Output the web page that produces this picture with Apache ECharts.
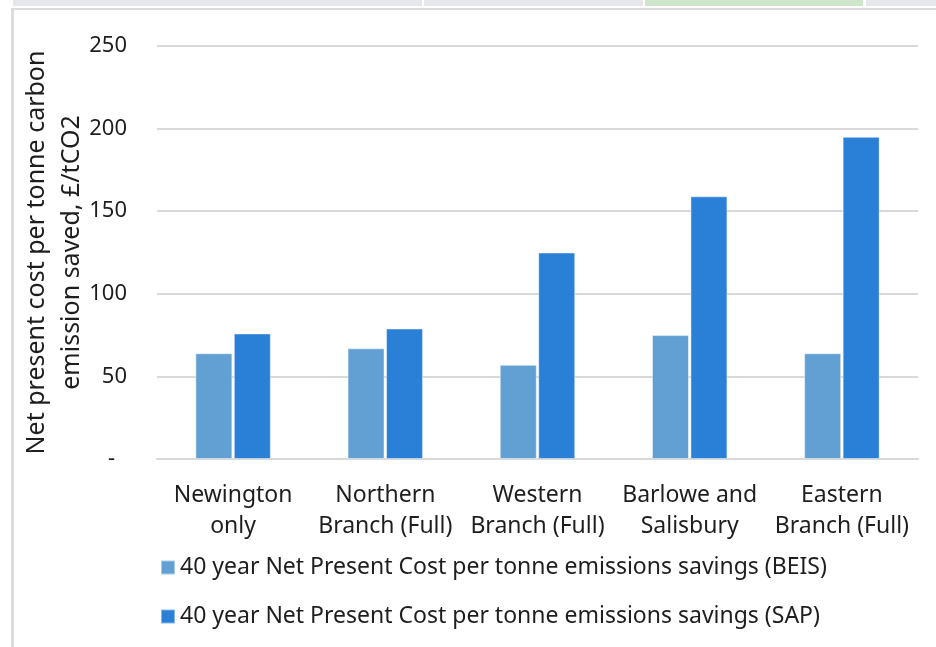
<!DOCTYPE html>
<html>
<head>
<meta charset="utf-8">
<script src="https://cdn.jsdelivr.net/npm/echarts@6/dist/echarts.min.js"></script>
<style>
html,body{margin:0;padding:0;background:#fff;}
#chart{width:936px;height:647px;}
</style>
</head>
<body>
<div id="chart"></div>
<script>
var categories = ['Newington\nonly', 'Northern\nBranch (Full)', 'Western\nBranch (Full)', 'Barlowe and\nSalisbury', 'Eastern\nBranch (Full)'];
var beisValues = [64, 67, 57, 75, 64];
var sapValues = [76, 79, 125, 159, 195];
var seriesNames = ['40 year Net Present Cost per tonne emissions savings (BEIS)', '40 year Net Present Cost per tonne emissions savings (SAP)'];
var yTicks = [0, 50, 100, 150, 200, 250];
var yAxisTitle = 'Net present cost per tonne carbon\nemission saved, £/tCO2';

var FONT = 'Noto Sans';
var TXT = '#1e1e1e';
var chart = echarts.init(document.getElementById('chart'));
chart.setOption({
  backgroundColor: '#fff',
  animation: false,
  graphic: [
    {type:'rect', shape:{x:13,y:0,width:409,height:6}, style:{fill:'#e6e7eb'}},
    {type:'rect', shape:{x:424,y:0,width:219,height:6}, style:{fill:'#e6e7eb'}},
    {type:'rect', shape:{x:645,y:0,width:218,height:6}, style:{fill:'#cfe6cd'}},
    {type:'rect', shape:{x:866,y:0,width:70,height:6}, style:{fill:'#e6e7eb'}},
    {type:'rect', shape:{x:11,y:8,width:925,height:2}, style:{fill:'#dcdcdc'}},
    {type:'rect', shape:{x:11,y:8,width:3,height:639}, style:{fill:'#dcdcdc'}}
  ],
  grid: {left:157, right:18, top:46, bottom:188, containLabel:false, outerBoundsMode:'none'},
  legend: {
    orient:'vertical', left:155, top:551, itemWidth:14, itemHeight:14, itemGap:26,
    icon:'rect',
    textStyle:{fontFamily:FONT, fontSize:23, color:TXT},
    data: seriesNames
  },
  xAxis: {
    type:'category', data:categories,
    axisLine:{show:true, lineStyle:{color:'#d9d9d9', width:2}},
    axisTick:{show:false},
    axisLabel:{fontFamily:FONT, fontSize:23, color:TXT, margin:21, lineHeight:31, interval:0}
  },
  yAxis: {
    type:'value', min:0, max:250, interval:50,
    name: yAxisTitle, nameLocation:'middle', nameGap:68, nameRotate:90, nameMoveOverlap:false,
    nameTextStyle:{fontFamily:FONT, fontSize:25, color:TXT, lineHeight:35},
    axisLine:{show:false}, axisTick:{show:false},
    splitLine:{lineStyle:{color:'#d9d9d9', width:2}},
    axisLabel:{fontFamily:FONT, fontSize:22, color:TXT, margin:30,
      formatter:function(v){ return v===0 ? '{d|-}' : String(v); },
      rich:{d:{fontFamily:FONT, fontSize:22, color:TXT, padding:[0,12,0,0]}}}
  },
  series: [
    {name:seriesNames[0], type:'bar', data:beisValues, barWidth:37, barGap:'4%',
     itemStyle:{color:'#629fd3', borderColor:'rgba(255,255,255,0.45)', borderWidth:1}},
    {name:seriesNames[1], type:'bar', data:sapValues, barWidth:37, barGap:'4%',
     itemStyle:{color:'#2a7fd7', borderColor:'rgba(255,255,255,0.45)', borderWidth:1}}
  ]
});
</script>
</body>
</html>
